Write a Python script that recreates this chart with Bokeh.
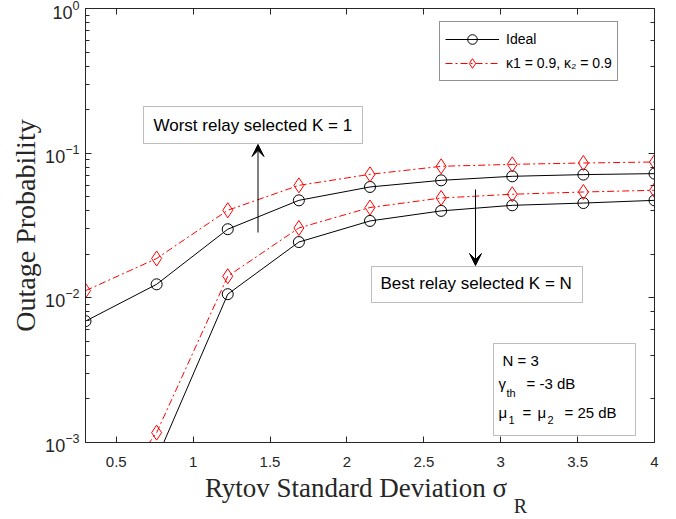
import json

from bokeh.plotting import figure
from bokeh.models import (LinearAxis, LogAxis, FixedTicker, Legend, LegendItem,
                          BoxAnnotation, Label, Arrow, VeeHead, CustomJSTickFormatter)
from bokeh.embed import file_html
from bokeh.resources import INLINE

# Rytov standard deviation samples
sigma_r = [0.3, 0.7625, 1.225, 1.6875, 2.15, 2.6125, 3.075, 3.5375, 4.0]

# Outage probability, worst relay selected (K = 1)
worst_ideal = [6.90e-3, 1.24e-2, 2.98e-2, 4.72e-2, 5.84e-2, 6.49e-2, 6.92e-2, 7.11e-2, 7.22e-2]
worst_kappa = [1.12e-2, 1.87e-2, 4.03e-2, 5.99e-2, 7.14e-2, 8.11e-2, 8.37e-2, 8.55e-2, 8.69e-2]

# Outage probability, best relay selected (K = N)
best_ideal = [1.5e-4, 7.7e-4, 1.06e-2, 2.43e-2, 3.40e-2, 3.99e-2, 4.36e-2, 4.52e-2, 4.72e-2]
best_kappa = [2.5e-4, 1.17e-3, 1.41e-2, 3.04e-2, 4.21e-2, 4.90e-2, 5.20e-2, 5.39e-2, 5.54e-2]

x_ticks = [0.5, 1, 1.5, 2, 2.5, 3, 3.5, 4]

W, H = 676, 519
LEFT, RIGHT, TOP, BOTTOM = 85, 22, 8, 77
X0, X1 = 0.3, 4.0
Y_DECADES = 3  # 1e-3 .. 1e0

FRAME_W = W - LEFT - RIGHT
FRAME_H = H - TOP - BOTTOM


def dx(px):
    """Canvas pixel column -> data x."""
    return X0 + (px - LEFT) * (X1 - X0) / FRAME_W


def dy(py):
    """Canvas pixel row -> data y (log axis)."""
    return 10 ** (-Y_DECADES * (py - TOP) / FRAME_H)


AX_COLOR = "#262626"
SANS = "Liberation Sans"
SERIF = "Liberation Serif"

p = figure(width=W, height=H, x_range=(X0, X1), y_range=(1e-3, 1),
           y_axis_type="log", output_backend="svg", toolbar_location=None,
           min_border_left=LEFT, min_border_right=RIGHT,
           min_border_top=TOP, min_border_bottom=BOTTOM)
p.grid.visible = False
p.outline_line_color = None
p.background_fill_color = "white"
p.border_fill_color = "white"

bottom_axis = p.below[0]
left_axis = p.left[0]

# curves
red_dash = "7 3 2 3"
l_wi = p.line(sigma_r, worst_ideal, line_color="black", line_width=1)
s_wi = p.scatter(sigma_r, worst_ideal, marker="circle", size=11,
                 fill_color=None, line_color="black", line_width=1)
p.line(sigma_r, best_ideal, line_color="black", line_width=1)
p.scatter(sigma_r, best_ideal, marker="circle", size=11,
          fill_color=None, line_color="black", line_width=1)

l_wk = p.line(sigma_r, worst_kappa, line_color="#ff0000", line_width=1, line_dash=red_dash)
s_wk = p.scatter(sigma_r, worst_kappa, marker="diamond", size=15,
                 fill_color=None, line_color="#ff0000", line_width=1)
p.line(sigma_r, best_kappa, line_color="#ff0000", line_width=1, line_dash=red_dash)
p.scatter(sigma_r, best_kappa, marker="diamond", size=15,
          fill_color=None, line_color="#ff0000", line_width=1)

# axes: ticks inside, on all four sides
bottom_axis.ticker = FixedTicker(ticks=x_ticks)
top_axis = LinearAxis(ticker=FixedTicker(ticks=x_ticks))
right_axis = LogAxis()
p.add_layout(top_axis, "above")
p.add_layout(right_axis, "right")

for ax in [bottom_axis, left_axis, top_axis, right_axis]:
    ax.axis_line_color = AX_COLOR
    ax.major_tick_line_color = AX_COLOR
    ax.minor_tick_line_color = AX_COLOR
    ax.major_tick_in = 6
    ax.major_tick_out = 0
    ax.minor_tick_in = 4
    ax.minor_tick_out = 0
    ax.major_label_text_font = SANS
    ax.major_label_text_font_size = "15px"
    ax.major_label_text_color = AX_COLOR

for ax in [bottom_axis, top_axis]:
    ax.minor_tick_line_color = None

# mirrored axes carry ticks only
for ax in [top_axis, right_axis]:
    ax.formatter = CustomJSTickFormatter(code="return ' '")
    ax.major_label_text_font_size = "2px"
    ax.major_label_text_color = None
    ax.major_label_standoff = 0

bottom_axis.major_label_standoff = 14
left_axis.major_label_standoff = 6
left_axis.major_label_text_font_size = "18px"

left_axis.axis_label = "Outage Probability"
left_axis.axis_label_text_font = SERIF
left_axis.axis_label_text_font_size = "28px"
left_axis.axis_label_text_font_style = "normal"
left_axis.axis_label_text_color = AX_COLOR
left_axis.axis_label_standoff = 1


def caption_axis(center_px, txt, size, standoff):
    """A line-less axis below the plot that only shows one piece of caption text."""
    pos = dx(center_px)
    ax = LinearAxis(ticker=FixedTicker(ticks=[pos]),
                    formatter=CustomJSTickFormatter(code="return %s" % json.dumps(txt)))
    ax.axis_line_color = None
    ax.major_tick_line_color = None
    ax.minor_tick_line_color = None
    ax.major_tick_in = 0
    ax.major_tick_out = 0
    ax.major_label_text_font = SERIF
    ax.major_label_text_font_size = size
    ax.major_label_text_color = AX_COLOR
    ax.major_label_standoff = standoff
    p.add_layout(ax, "below")
    return ax


# x axis title with subscript R
caption_axis(355.5, "Rytov Standard Deviation σ", "27px", 3)
caption_axis(520, "R", "20px", -11)

# legend
legend = Legend(items=[
    LegendItem(label="Ideal", renderers=[l_wi, s_wi]),
    LegendItem(label="κ1 = 0.9, κ₂ = 0.9", renderers=[l_wk, s_wk]),
], location=(439 - LEFT, FRAME_H - (24 - TOP) - 57))
legend.glyph_width = 54
legend.glyph_height = 24
legend.label_height = 24
legend.spacing = -1
legend.padding = 5
legend.margin = 0
legend.label_standoff = 7
legend.label_text_font = SANS
legend.label_text_font_size = "14px"
legend.label_text_color = "black"
legend.border_line_color = AX_COLOR
legend.border_line_width = 1
legend.background_fill_color = "white"
legend.background_fill_alpha = 1
p.add_layout(legend)


def text_box(left, right, top, bottom):
    p.add_layout(BoxAnnotation(left=dx(left), right=dx(right), top=dy(top), bottom=dy(bottom),
                               fill_color="white", fill_alpha=1,
                               line_color=AX_COLOR, line_width=1))


def text_at(px, py, txt, size="17px", style="normal"):
    p.add_layout(Label(x=dx(px), y=dy(py), text=txt, text_font=SANS,
                       text_font_size=size, text_font_style=style, text_color="black",
                       text_baseline="middle", text_align="left"))


# worst relay annotation
text_box(143, 362, 106, 143)
text_at(153, 125, "Worst relay selected K = 1")
p.add_layout(Arrow(x_start=dx(257.5), y_start=dy(232), x_end=dx(257.5), y_end=dy(144),
                   line_color="black", line_width=1,
                   end=VeeHead(size=12, fill_color="black", line_color="black")))

# best relay annotation
text_box(371, 582, 266, 302)
text_at(380, 283, "Best relay selected K = N")
p.add_layout(Arrow(x_start=dx(475), y_start=dy(189), x_end=dx(475), y_end=dy(265),
                   line_color="black", line_width=1,
                   end=VeeHead(size=12, fill_color="black", line_color="black")))

# parameter box
text_box(493, 635, 343, 435)
text_at(502, 360, "N = 3", size="15px")
text_at(498, 383, "γ", size="15px")
text_at(506, 392, "th", size="11px")
text_at(526, 383, "= -3 dB", size="15px")
text_at(498, 412, "μ", size="15px")
text_at(508, 419, "1", size="11px")
text_at(522, 412, "=", size="15px")
text_at(537, 412, "μ", size="15px")
text_at(547, 419, "2", size="11px")
text_at(564, 412, "= 25 dB", size="15px")

open("out.html", "w").write(file_html(p, INLINE))
